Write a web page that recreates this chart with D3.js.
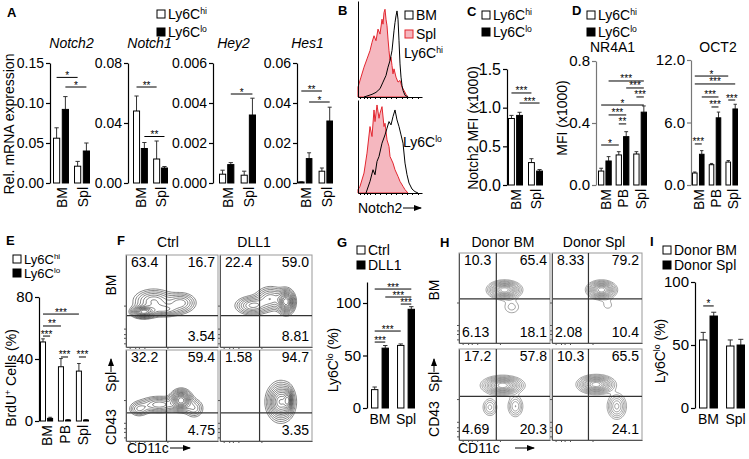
<!DOCTYPE html>
<html>
<head>
<meta charset="utf-8">
<script src="https://cdn.jsdelivr.net/npm/d3@7"></script>
<style>
  body { margin: 0; background: #fff; }
</style>
</head>
<body>
<script>
// ---------- data ----------
var FONT = '"Liberation Sans", Arial, Helvetica, sans-serif';

var tissues = ["BM", "Spl"];
var tissues3 = ["BM", "PB", "Spl"];

// A - qPCR (Ly6Chi = s0, Ly6Clo = s1), per tissue
var notch2Hi = [0.056, 0.021], notch2HiSem = [0.013, 0.006];
var notch2Lo = [0.092, 0.040], notch2LoSem = [0.016, 0.010];
var notch1Hi = [0.048, 0.016], notch1HiSem = [0.010, 0.012];
var notch1Lo = [0.023, 0.010], notch1LoSem = [0.004, 0.001];
var hey2Hi = [0.00044, 0.00039], hey2HiSem = [0.0002, 0.0002];
var hey2Lo = [0.00092, 0.0034], hey2LoSem = [0.0001, 0.00084];
var hes1Hi = [0.0005, 0.0059], hes1HiSem = [0.0001, 0.0016];
var hes1Lo = [0.0122, 0.031], hes1LoSem = [0.0029, 0.0069];
// significance: [from bar, to bar, y value, stars]
var notch2Sig = [[0, 2, 0.132, "*"], [1, 3, 0.120, "*"]];
var notch1Sig = [[0, 2, 0.064, "**"], [1, 3, 0.031, "**"]];
var hey2Sig = [[1, 3, 0.00445, "*"]];
var hes1Sig = [[0, 2, 0.046, "**"], [1, 3, 0.0405, "*"]];

// B - Notch2 histograms (channel, count)
var topSplCh = [0, 3, 6, 9, 12, 14, 16, 18, 20, 22, 24, 25, 26, 27, 28, 29, 30, 31, 32, 33, 34, 35, 36, 38, 40, 42, 44, 46, 48, 50];
var topSplN = [30, 60, 90, 115, 140, 165, 185, 170, 205, 190, 235, 220, 255, 265, 235, 215, 175, 140, 110, 120, 95, 70, 85, 60, 45, 50, 30, 20, 8, 0];
var topBmCh = [6, 10, 14, 18, 22, 25, 28, 30, 32, 34, 36, 37, 38, 39, 40, 41, 42, 43, 44, 45, 47, 50];
var topBmN = [0, 4, 8, 14, 25, 45, 65, 90, 110, 140, 200, 225, 245, 260, 235, 170, 100, 60, 35, 20, 5, 0];
var botSplCh = [0, 2, 6, 9, 12, 14, 16, 17, 19, 21, 22, 24, 26, 27, 29, 31, 32, 35, 37, 40, 42, 45, 47, 50];
var botSplN = [10, 20, 60, 120, 200, 170, 250, 215, 265, 225, 240, 260, 200, 210, 160, 140, 110, 90, 70, 50, 35, 20, 10, 0];
var botBmCh = [8, 12, 15, 17, 19, 21, 24, 27, 29, 31, 33, 35, 37, 39, 41, 43, 45, 47, 49, 51, 54, 57, 60];
var botBmN = [0, 35, 70, 55, 95, 110, 150, 175, 195, 215, 205, 230, 250, 220, 200, 175, 150, 90, 55, 30, 12, 4, 0];

// C - Notch2 MFI (x1000)
var notchMfiHi = [0.86, 0.29], notchMfiHiSem = [0.04, 0.05];
var notchMfiLo = [0.90, 0.18], notchMfiLoSem = [0.04, 0.02];
var notchMfiSig = [[0, 2, 1.19, "***"], [1, 3, 1.06, "***"]];

// D - MFI (x1000)
var nr4a1Hi = [0.090, 0.194, 0.200], nr4a1HiSem = [0.018, 0.021, 0.015];
var nr4a1Lo = [0.155, 0.312, 0.470], nr4a1LoSem = [0.028, 0.032, 0.040];
var nr4a1Sig = [[1, 5, 0.671, "***"], [3, 5, 0.626, "***"], [4, 5, 0.568, "***"], [0, 5, 0.516, "*"],
                [1, 3, 0.452, "***"], [2, 3, 0.394, "**"], [0, 2, 0.258, "*"]];
var oct2Hi = [1.15, 1.95, 2.2], oct2HiSem = [0.10, 0.12, 0.15];
var oct2Lo = [2.95, 6.45, 7.3], oct2LoSem = [0.35, 0.55, 0.45];
var oct2Sig = [[0, 4, 10.46, "*"], [0, 5, 9.7, "***"], [1, 3, 8.45, "***"], [4, 5, 8.16, "***"],
               [2, 3, 7.49, "***"], [0, 1, 3.94, "***"]];

// E - BrdU+ cells (%)
var brduHi = [51, 35, 32.2], brduHiSem = [2, 5.3, 4.9];
var brduLo = [1.7, 0.6, 0.6], brduLoSem = [0.7, 0.3, 0.3];
var brduSig = [[0, 4, 69, "***"], [0, 2, 61.3, "**"], [0, 1, 54.8, "***"], [2, 3, 41.3, "***"], [4, 5, 41.3, "***"]];

// F - CD43 vs CD11c, Ctrl / DLL1 (quadrant %: top-left, top-right, bottom-right)
var fCtrlBM = ["63.4", "16.7", "3.54"], fDll1BM = ["22.4", "59.0", "8.81"];
var fCtrlSpl = ["32.2", "59.4", "4.75"], fDll1Spl = ["1.58", "94.7", "3.35"];
// density blobs: [cx, cy, sx, sy, weight] in frame fractions
var fCtrlBMBlobs = [[0.19, 0.38, 0.07, 0.035, 1.0], [0.30, 0.50, 0.12, 0.07, 0.5], [0.60, 0.48, 0.09, 0.06, 0.45], [0.42, 0.40, 0.10, 0.04, 0.4]];
var fDll1BMBlobs = [[0.72, 0.49, 0.05, 0.07, 1.0], [0.35, 0.45, 0.10, 0.055, 0.5], [0.55, 0.53, 0.09, 0.07, 0.45]];
var fCtrlSplBlobs = [[0.60, 0.45, 0.06, 0.06, 1.0], [0.36, 0.40, 0.12, 0.05, 0.45], [0.14, 0.35, 0.06, 0.045, 0.3], [0.74, 0.36, 0.06, 0.06, 0.3]];
var fDll1SplBlobs = [[0.66, 0.43, 0.08, 0.11, 1.0], [0.74, 0.45, 0.025, 0.07, 0.6]];

// G - Ly6Clo (%) Ctrl / DLL1
var gCtrl = [17.5, 59.6], gCtrlSem = [2.5, 1.4];
var gDll1 = [57, 94], gDll1Sem = [2.5, 2.5];
var gSig = [[0, 3, 113.3, "***"], [1, 3, 105.7, "***"], [2, 3, 99, "***"], [0, 2, 73.3, "***"], [0, 1, 62.8, "***"]];

// H - donor BM / donor Spl (top-left, top-right, bottom-left, bottom-right)
var hBMinBM = ["10.3", "65.4", "6.13", "18.1"], hSplinBM = ["8.33", "79.2", "2.08", "10.4"];
var hBMinSpl = ["17.2", "57.8", "4.69", "20.3"], hSplinSpl = ["10.3", "65.5", "0", "24.1"];
var hBMinBMBlobs = [[0.50, 0.59, 0.09, 0.05, 1.0], [0.58, 0.40, 0.07, 0.06, 0.14]];
var hSplinBMBlobs = [[0.55, 0.59, 0.08, 0.05, 1.0], [0.62, 0.42, 0.06, 0.05, 0.1]];
var hBMinSplBlobs = [[0.48, 0.60, 0.11, 0.05, 1.0], [0.34, 0.36, 0.05, 0.06, 0.25], [0.62, 0.37, 0.05, 0.07, 0.3]];
var hSplinSplBlobs = [[0.49, 0.61, 0.10, 0.05, 1.0], [0.72, 0.37, 0.06, 0.08, 0.4]];

// I - Ly6Clo (%) donor BM / donor Spl
var iDonorBM = [54, 49.2], iDonorBMSem = [6, 4.8];
var iDonorSpl = [73, 50], iDonorSplSem = [3, 4.5];
var iSig = [[0, 1, 81, "*"]];

var hiLabel = [["Ly6C"], ["hi", 1]], loLabel = [["Ly6C"], ["lo", 1]];

// ---------- drawing ----------
var svg = d3.select("body").append("svg")
    .attr("width", 749).attr("height", 459)
    .style("font-family", FONT);

svg.append("defs").append("marker")
    .attr("id", "arr").attr("viewBox", "0 0 8 6").attr("refX", 7).attr("refY", 3)
    .attr("markerWidth", 8).attr("markerHeight", 6).attr("markerUnits", "userSpaceOnUse")
    .attr("orient", "auto")
    .append("path").attr("d", "M0,0L8,3L0,6Z").attr("fill", "#000");

function richText(sel, parts, size) {
    var up = false;
    parts.forEach(function(p) {
        var t = sel.append("tspan").text(p[0]);
        if (p[1] && !up) { t.attr("font-size", size * 0.62).attr("dy", -size * 0.38); up = true; }
        else if (!p[1] && up) { t.attr("dy", size * 0.38); up = false; }
    });
}

function letter(s, x, y) {
    svg.append("text").attr("x", x).attr("y", y).attr("font-size", 13)
        .attr("font-weight", "bold").text(s);
}

function legend(x, y, items, gap, fs) {
    fs = fs || 14;
    items.forEach(function(it, i) {
        var cy = y + i * gap;
        svg.append("rect").attr("x", x).attr("y", cy - 4).attr("width", 8).attr("height", 8)
            .attr("fill", it.fill).attr("stroke", it.stroke || "#000").attr("stroke-width", 1);
        var t = svg.append("text").attr("x", x + 11).attr("y", cy + fs * 0.36).attr("font-size", fs);
        richText(t, it.label, fs);
    });
}

function yTitle(parts, x, y, size) {
    var t = svg.append("text").attr("transform", "translate(" + x + "," + y + ") rotate(-90)")
        .attr("text-anchor", "middle").attr("font-size", size || 14);
    richText(t, parts, size || 14);
}

function barChart(o) {
    var g = svg.append("g");
    var y = d3.scaleLinear().domain([0, o.yMax]).range([o.yBase, o.yTop]);
    var xg = d3.scaleBand().domain(o.groups).range(o.xr).paddingInner(o.pg).paddingOuter(0);
    var xs = d3.scaleBand().domain([0, 1]).range([0, xg.bandwidth()]).paddingInner(o.ps);
    var rows = [];
    o.groups.forEach(function(grp, gi) {
        rows.push({g: grp, s: 0, i: gi * 2, v: o.s0[gi], e: o.e0[gi]});
        rows.push({g: grp, s: 1, i: gi * 2 + 1, v: o.s1[gi], e: o.e1[gi]});
    });
    function cx(i) { return xg(o.groups[Math.floor(i / 2)]) + xs(i % 2) + xs.bandwidth() / 2; }
    var bw = xs.bandwidth();

    // error bars (upper only)
    var eb = g.selectAll(".eb").data(rows).join("g").attr("stroke", "#333").attr("stroke-width", 1);
    eb.append("line").attr("x1", d => cx(d.i)).attr("x2", d => cx(d.i))
        .attr("y1", d => y(d.v)).attr("y2", d => y(d.v + d.e));
    eb.append("line").attr("x1", d => cx(d.i) - bw * 0.3).attr("x2", d => cx(d.i) + bw * 0.3)
        .attr("y1", d => y(d.v + d.e)).attr("y2", d => y(d.v + d.e));

    g.selectAll("rect").data(rows).join("rect")
        .attr("x", d => xg(d.g) + xs(d.s) + 0.5).attr("width", bw - 1)
        .attr("y", d => y(d.v)).attr("height", d => Math.max(0.5, y(0) - y(d.v)))
        .attr("fill", d => d.s ? "#000" : "#fff").attr("stroke", "#000").attr("stroke-width", 1);

    var ax = g.append("g").attr("transform", "translate(" + o.axisX + ",0)")
        .call(d3.axisLeft(y).tickValues(o.ticks).tickFormat(d3.format(o.fmt))
            .tickSize(4).tickSizeOuter(0).tickPadding(2));
    ax.selectAll("text").attr("font-size", o.fs || 15).attr("font-family", FONT).attr("fill", "#000");
    ax.selectAll("path, line").attr("stroke", o.axisColor || "#000").attr("stroke-width", 1.2);

    (o.sig || []).forEach(function(s) {
        var x1 = cx(s[0]), x2 = cx(s[1]), yy = y(s[2]);
        g.append("line").attr("x1", x1).attr("x2", x2).attr("y1", yy).attr("y2", yy)
            .attr("stroke", "#000").attr("stroke-width", 1);
        g.append("text").attr("x", (x1 + x2) / 2).attr("y", yy + 1.5).attr("text-anchor", "middle")
            .attr("font-size", 10).text(s[3]);
    });

    o.groups.forEach(function(grp) {
        var gx = xg(grp) + xg.bandwidth() / 2;
        if (o.rotate) {
            g.append("text").attr("transform", "translate(" + (gx + 1) + "," + (o.yBase + 4) + ") rotate(-90)")
                .attr("text-anchor", "end").attr("dy", "0.35em").attr("font-size", o.lfs || 14).text(grp);
        } else {
            g.append("text").attr("x", gx).attr("y", o.yBase + 16).attr("text-anchor", "middle")
                .attr("font-size", 14).text(grp);
        }
    });

    if (o.title) {
        g.append("text").attr("x", (o.xr[0] + o.xr[1]) / 2 + (o.titleDx || 0)).attr("y", o.titleY)
            .attr("text-anchor", "middle").attr("font-size", 14)
            .attr("font-style", o.italic ? "italic" : "normal").text(o.title);
    }
}

function histo(o) {
    var x = d3.scaleLinear().domain([0, 64]).range([o.x, o.x + 64]);
    var y = d3.scaleLinear().domain([0, o.max]).range([o.yBot, o.yTop]);
    var area = d3.area().x(d => x(d[0])).y0(y(0)).y1(d => y(d[1]));
    var line = d3.line().x(d => x(d[0])).y(d => y(d[1]));
    svg.append("path").datum(d3.zip(o.splCh, o.splN)).attr("d", area)
        .attr("fill", "#f5b7bf").attr("stroke", "#e3262f").attr("stroke-width", 1);
    svg.append("path").datum(d3.zip(o.bmCh, o.bmN)).attr("d", line)
        .attr("fill", "none").attr("stroke", "#000").attr("stroke-width", 1);
    var bx = svg.append("g").attr("transform", "translate(0," + o.yBot + ")")
        .call(d3.axisBottom(x).tickValues([2, 6, 9, 12, 17, 22, 28, 33, 38, 44, 49, 54, 60]).tickSize(2).tickFormat("").tickSizeOuter(0));
    var lx = svg.append("g").attr("transform", "translate(" + o.x + ",0)")
        .call(d3.axisLeft(y).tickValues([]).tickSizeOuter(0));
    [bx, lx].forEach(function(a) { a.selectAll("path, line").attr("stroke", "#000").attr("stroke-width", 1); });
    var t = svg.append("text").attr("x", o.labelX).attr("y", o.labelY).attr("font-size", 14);
    richText(t, o.label, 14);
}

var levels = [0.08, 0.12, 0.17, 0.23, 0.3, 0.37, 0.45, 0.53, 0.62, 0.71, 0.8, 0.9];

function flowPlot(o) {
    var n = 70;
    var xs = d3.scaleLinear().domain([0, 1]).range([o.x, o.x + o.w]);
    var ys = d3.scaleLinear().domain([0, 1]).range([o.y + o.h, o.y]);
    var vals = new Float64Array(n * n);
    for (var j = 0; j < n; j++) {
        for (var i = 0; i < n; i++) {
            var fx = (i + 0.5) / n, fy = 1 - (j + 0.5) / n, v = 0;
            o.blobs.forEach(function(b) {
                var dx = (fx - b[0]) / b[2], dy = (fy - b[1]) / b[3];
                v += b[4] * Math.exp(-0.5 * (dx * dx + dy * dy));
            });
            vals[j * n + i] = v;
        }
    }
    var mx = d3.max(vals);
    var cs = d3.contours().size([n, n]).thresholds(levels.map(l => l * mx))(vals);
    var gx = d3.scaleLinear().domain([0, n]).range([o.x, o.x + o.w]);
    var gy = d3.scaleLinear().domain([0, n]).range([o.y, o.y + o.h]);
    var path = d3.geoPath(d3.geoTransform({point: function(a, b) { this.stream.point(gx(a), gy(b)); }}));
    var g = svg.append("g");
    g.selectAll("path").data(cs).join("path").attr("d", path)
        .attr("fill", "none").attr("stroke", o.color).attr("stroke-width", 0.6);
    // frame and gates
    g.append("rect").attr("x", o.x).attr("y", o.y).attr("width", o.w).attr("height", o.h)
        .attr("fill", "none").attr("stroke", "#999").attr("stroke-width", 1);
    g.append("line").attr("x1", xs(o.gate[0])).attr("x2", xs(o.gate[0])).attr("y1", o.y).attr("y2", o.y + o.h)
        .attr("stroke", "#333").attr("stroke-width", 1.2);
    g.append("line").attr("x1", o.x).attr("x2", o.x + o.w).attr("y1", ys(o.gate[1])).attr("y2", ys(o.gate[1]))
        .attr("stroke", "#333").attr("stroke-width", 1.2);
    // minor ticks
    var tk = [0.04, 0.1, 0.14, 0.2, 0.45];
    g.append("g").attr("transform", "translate(0," + (o.y + o.h) + ")")
        .call(d3.axisBottom(xs).tickValues(tk).tickSize(2).tickFormat("").tickSizeOuter(0))
        .selectAll("path, line").attr("stroke", "#555");
    g.append("g").attr("transform", "translate(" + o.x + ",0)")
        .call(d3.axisLeft(ys).tickValues(tk).tickSize(2).tickFormat("").tickSizeOuter(0))
        .selectAll("path, line").attr("stroke", "#555");
    // quadrant numbers
    var q = o.nums;
    var top = o.y + 12, bot = o.y + o.h - 6.5;
    function num(x, y, s, anchor) {
        g.append("text").attr("x", x).attr("y", y).attr("text-anchor", anchor).attr("font-size", 14).text(s);
    }
    num(o.x + 5, top, q[0], "start");
    num(o.x + o.w - 3, top, q[1], "end");
    if (q.length === 3) {
        num(o.x + o.w - 3, bot, q[2], "end");
    } else {
        num(o.x + 3, bot, q[2], "start");
        num(o.x + o.w - 3, bot, q[3], "end");
    }
}

function flowAxisLabels(x, rowBMy, splY, cd43Y, arrowY1, arrowY2, cdx, cdy, arrX1, arrX2) {
    svg.append("text").attr("transform", "translate(" + x + "," + rowBMy + ") rotate(-90)")
        .attr("text-anchor", "middle").attr("font-size", 14).text("BM");
    svg.append("text").attr("transform", "translate(" + x + "," + splY + ") rotate(-90)")
        .attr("text-anchor", "middle").attr("font-size", 14).text("Spl");
    svg.append("text").attr("transform", "translate(" + x + "," + cd43Y + ") rotate(-90)")
        .attr("text-anchor", "middle").attr("font-size", 14).text("CD43");
    svg.append("line").attr("x1", x - 5).attr("x2", x - 5).attr("y1", arrowY1).attr("y2", arrowY2)
        .attr("stroke", "#000").attr("stroke-width", 1).attr("marker-end", "url(#arr)");
    svg.append("text").attr("x", cdx).attr("y", cdy).attr("font-size", 14).text("CD11c");
    svg.append("line").attr("x1", arrX1).attr("x2", arrX2).attr("y1", cdy - 5).attr("y2", cdy - 5)
        .attr("stroke", "#000").attr("stroke-width", 1).attr("marker-end", "url(#arr)");
}

// ---- Panel A ----
letter("A", 7, 17);
legend(157, 14, [{label: hiLabel, fill: "#fff"}, {label: loLabel, fill: "#000"}], 18);
yTitle([["Rel. mRNA expression"]], 14, 124, 14);
barChart({axisX: 50, xr: [53, 90], pg: 0.24, ps: 0.18, yMax: 0.15, yTop: 63, yBase: 183,
    ticks: [0, 0.05, 0.10, 0.15], fmt: ".2f", fs: 14, groups: tissues,
    s0: notch2Hi, e0: notch2HiSem, s1: notch2Lo, e1: notch2LoSem, sig: notch2Sig,
    rotate: true, title: "Notch2", italic: true, titleY: 48, titleDx: 0});
barChart({axisX: 128, xr: [133, 168], pg: 0.26, ps: 0.1, yMax: 0.08, yTop: 63, yBase: 183,
    ticks: [0, 0.04, 0.08], fmt: ".2f", fs: 14, groups: tissues,
    s0: notch1Hi, e0: notch1HiSem, s1: notch1Lo, e1: notch1LoSem, sig: notch1Sig,
    rotate: true, title: "Notch1", italic: true, titleY: 48, titleDx: -1});
barChart({axisX: 213, xr: [219, 256], pg: 0.29, ps: 0.13, yMax: 0.006, yTop: 63, yBase: 183,
    ticks: [0, 0.002, 0.004, 0.006], fmt: ".3f", fs: 14, groups: tissues,
    s0: hey2Hi, e0: hey2HiSem, s1: hey2Lo, e1: hey2LoSem, sig: hey2Sig,
    rotate: true, title: "Hey2", italic: true, titleY: 48, titleDx: -4});
barChart({axisX: 297, xr: [298, 333], pg: 0.3, ps: 0.15, yMax: 0.06, yTop: 63, yBase: 183,
    ticks: [0, 0.02, 0.04, 0.06], fmt: ".2f", fs: 14, groups: tissues,
    s0: hes1Hi, e0: hes1HiSem, s1: hes1Lo, e1: hes1LoSem, sig: hes1Sig,
    rotate: true, title: "Hes1", italic: true, titleY: 48, titleDx: -8});

// ---- Panel B ----
letter("B", 338, 15);
histo({x: 358, yTop: 1, yBot: 97, max: 290, splCh: topSplCh, splN: topSplN, bmCh: topBmCh, bmN: topBmN,
    label: hiLabel, labelX: 404, labelY: 58});
histo({x: 358, yTop: 100, yBot: 193, max: 280, splCh: botSplCh, splN: botSplN, bmCh: botBmCh, bmN: botBmN,
    label: loLabel, labelX: 403, labelY: 147});
legend(405, 15, [{label: [["BM"]], fill: "#fff"}, {label: [["Spl"]], fill: "#f5b7bf", stroke: "#e3262f"}], 19);
svg.append("text").attr("x", 358).attr("y", 213).attr("font-size", 14).text("Notch2");
svg.append("line").attr("x1", 403).attr("x2", 421).attr("y1", 208).attr("y2", 208)
    .attr("stroke", "#000").attr("stroke-width", 1).attr("marker-end", "url(#arr)");

// ---- Panel C ----
letter("C", 467, 16);
legend(482, 15, [{label: hiLabel, fill: "#fff"}, {label: loLabel, fill: "#000"}], 17);
yTitle([["Notch2 MFI (x1000)"]], 478, 128, 14);
barChart({axisX: 507, xr: [508, 543], pg: 0.25, ps: 0.15, yMax: 1.5, yTop: 69, yBase: 185,
    ticks: [0, 0.5, 1.0, 1.5], fmt: ".1f", fs: 16, groups: tissues,
    s0: notchMfiHi, e0: notchMfiHiSem, s1: notchMfiLo, e1: notchMfiLoSem, sig: notchMfiSig, rotate: true});

// ---- Panel D ----
letter("D", 572, 15);
legend(587, 15, [{label: hiLabel, fill: "#fff"}, {label: loLabel, fill: "#000"}], 17);
yTitle([["MFI (x1000)"]], 567, 118, 14);
barChart({axisX: 596, xr: [598, 647], pg: 0.22, ps: 0.15, yMax: 0.8, yTop: 61, yBase: 185,
    ticks: [0, 0.4, 0.8], fmt: ".1f", fs: 15, groups: tissues3, axisColor: "#777",
    s0: nr4a1Hi, e0: nr4a1HiSem, s1: nr4a1Lo, e1: nr4a1LoSem, sig: nr4a1Sig,
    rotate: true, title: "NR4A1", titleY: 52, titleDx: -10});
barChart({axisX: 691, xr: [692, 738], pg: 0.25, ps: 0.2, yMax: 12, yTop: 60, yBase: 185,
    ticks: [0, 6, 12], fmt: ".1f", fs: 15, groups: tissues3, axisColor: "#777",
    s0: oct2Hi, e0: oct2HiSem, s1: oct2Lo, e1: oct2LoSem, sig: oct2Sig,
    rotate: true, title: "OCT2", titleY: 52, titleDx: 3});

// ---- Panel E ----
letter("E", 6, 245);
legend(13, 259, [{label: hiLabel, fill: "#fff"}, {label: loLabel, fill: "#000"}], 14, 13);
yTitle([["BrdU"], ["+", 1], [" Cells (%)"]], 16, 378, 14);
barChart({axisX: 39, xr: [40, 89], pg: 0.27, ps: 0.15, yMax: 80, yTop: 297, yBase: 421,
    ticks: [0, 40, 80], fmt: "d", fs: 15, groups: tissues3,
    s0: brduHi, e0: brduHiSem, s1: brduLo, e1: brduLoSem, sig: brduSig, rotate: true});

// ---- Panel F ----
letter("F", 117, 245);
svg.append("text").attr("x", 168).attr("y", 247).attr("text-anchor", "middle").attr("font-size", 14).text("Ctrl");
svg.append("text").attr("x", 254).attr("y", 247).attr("text-anchor", "middle").attr("font-size", 14).text("DLL1");
flowPlot({x: 126, y: 255, w: 92, h: 92, blobs: fCtrlBMBlobs, gate: [0.44, 0.34], nums: fCtrlBM, color: "#333"});
flowPlot({x: 220, y: 255, w: 92, h: 92, blobs: fDll1BMBlobs, gate: [0.43, 0.34], nums: fDll1BM, color: "#333"});
flowPlot({x: 126, y: 350, w: 92, h: 91, blobs: fCtrlSplBlobs, gate: [0.44, 0.31], nums: fCtrlSpl, color: "#333"});
flowPlot({x: 220, y: 350, w: 92, h: 91, blobs: fDll1SplBlobs, gate: [0.43, 0.31], nums: fDll1Spl, color: "#333"});
flowAxisLabels(116, 285, 382, 427, 372, 359, 127, 453, 170, 190);

// ---- Panel G ----
letter("G", 337, 247);
legend(357, 250, [{label: [["Ctrl"]], fill: "#fff"}, {label: [["DLL1"]], fill: "#000"}], 15);
yTitle([["Ly6C"], ["lo", 1], [" (%)"]], 338, 360, 14);
barChart({axisX: 367, xr: [371, 415], pg: 0.31, ps: 0.3, yMax: 120, yTop: 282, yBase: 408,
    ticks: [0, 50, 100], fmt: "d", fs: 15, groups: tissues,
    s0: gCtrl, e0: gCtrlSem, s1: gDll1, e1: gDll1Sem, sig: gSig, rotate: false});

// ---- Panel H ----
letter("H", 440, 247);
svg.append("text").attr("x", 503).attr("y", 247).attr("text-anchor", "middle").attr("font-size", 14).text("Donor BM");
svg.append("text").attr("x", 594).attr("y", 247).attr("text-anchor", "middle").attr("font-size", 14).text("Donor Spl");
flowPlot({x: 459, y: 253, w: 91, h: 90, blobs: hBMinBMBlobs, gate: [0.41, 0.49], nums: hBMinBM, color: "#666"});
flowPlot({x: 552, y: 253, w: 90, h: 90, blobs: hSplinBMBlobs, gate: [0.405, 0.49], nums: hSplinBM, color: "#666"});
flowPlot({x: 459, y: 349, w: 91, h: 91, blobs: hBMinSplBlobs, gate: [0.41, 0.48], nums: hBMinSpl, color: "#666"});
flowPlot({x: 552, y: 349, w: 90, h: 91, blobs: hSplinSplBlobs, gate: [0.405, 0.48], nums: hSplinSpl, color: "#666"});
flowAxisLabels(439, 290, 382, 419, 372, 359, 458, 453, 515, 534);

// ---- Panel I ----
letter("I", 650, 246);
legend(663, 250, [{label: [["Donor BM"]], fill: "#fff"}, {label: [["Donor Spl"]], fill: "#000"}], 15);
yTitle([["Ly6C"], ["lo", 1], [" (%)"]], 665, 351, 14);
barChart({axisX: 695, xr: [699, 745], pg: 0.3, ps: 0.2, yMax: 100, yTop: 282, yBase: 408,
    ticks: [0, 50, 100], fmt: "d", fs: 15, groups: tissues,
    s0: iDonorBM, e0: iDonorBMSem, s1: iDonorSpl, e1: iDonorSplSem, sig: iSig, rotate: false});
</script>
</body>
</html>
